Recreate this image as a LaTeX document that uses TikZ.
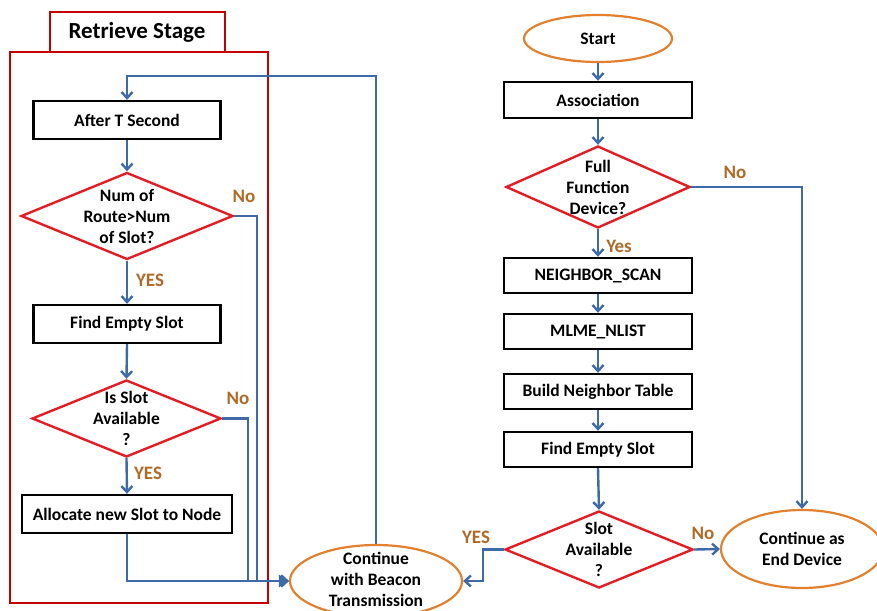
\documentclass[tikz,border=0pt]{standalone}
\usepackage{fontspec}
\setmainfont{Carlito}
\usetikzlibrary{shapes.geometric,arrows.meta,calc}
\definecolor{conn}{RGB}{62,106,168}
\definecolor{dred}{RGB}{228,28,36}
\definecolor{eorange}{RGB}{226,128,46}
\definecolor{lbl}{RGB}{176,106,40}
\definecolor{frame}{RGB}{196,0,0}
\tikzset{
  boxnode/.style={draw=black, line width=2.4pt, rectangle, inner sep=0pt, font=\fontsize{17.5}{20}\selectfont\bfseries},
  decnode/.style={draw=dred, line width=2.4pt, diamond, inner sep=0pt},
  decnode text/.style={align=center, font=\fontsize{17.5}{21}\selectfont\bfseries, inner sep=0pt},
  ellnode/.style={draw=eorange, line width=2.2pt, ellipse, inner sep=0pt},
  arr/.style={draw=conn, line width=2.4pt, -{Straight Barb[length=6pt,width=11pt]}},
  farr/.style={draw=conn, line width=2.4pt, -{Triangle[length=10pt,width=12pt]}},
  lab/.style={text=lbl, font=\fontsize{19}{22}\selectfont\bfseries, inner sep=0pt},
}
\begin{document}
\begin{tikzpicture}[x=1pt,y=-1pt]
\useasboundingbox (0,0) rectangle (877,610);
% frame and tab
\draw[frame, line width=2.8pt] (10,52) rectangle (268,603);
\draw[frame, line width=2.8pt] (50,52) -- (50,12) -- (225,12) -- (225,52);
\node[font=\fontsize{23}{26}\selectfont\bfseries] (title) at (137,32) {Retrieve Stage};

% left column
\node[boxnode, minimum width=187pt, minimum height=38pt] (ts) at (127,120) {After T Second};
\node[decnode, minimum width=212pt, minimum height=87pt,
  label={[decnode text]center:Num of\\Route>Num\\of Slot?}] (d1) at (127,216) {};
\node[boxnode, minimum width=187pt, minimum height=38pt] (fe1) at (127,324) {Find Empty Slot};
\node[decnode, minimum width=189pt, minimum height=77pt,
  label={[decnode text]center:Is Slot\\Available\\?}] (d2) at (126.5,418.5) {};
\node[boxnode, minimum width=210pt, minimum height=38pt] (al) at (127,514) {Allocate new Slot to Node};
\node[ellnode, minimum width=172pt, minimum height=72pt,
  label={[decnode text, yshift=2pt]center:Continue\\with Beacon\\Transmission}] (beacon) at (376,581) {};

% right column
\node[ellnode, minimum width=148pt, minimum height=47pt, font=\fontsize{17.5}{20}\selectfont\bfseries] (start) at (598,38.5) {Start};
\node[boxnode, minimum width=188pt, minimum height=36pt] (assoc) at (598,100) {Association};
\node[decnode, minimum width=184pt, minimum height=82pt,
  label={[decnode text]center:Full\\Function\\Device?}] (d3) at (598,187) {};
\node[boxnode, minimum width=188pt, minimum height=35pt] (ns) at (598,275.5) {NEIGHBOR\_SCAN};
\node[boxnode, minimum width=188pt, minimum height=35pt] (ml) at (598,331.5) {MLME\_NLIST};
\node[boxnode, minimum width=188pt, minimum height=35pt] (bn) at (598,391.5) {Build Neighbor Table};
\node[boxnode, minimum width=188pt, minimum height=35pt] (fe2) at (598,449.5) {Find Empty Slot};
\node[decnode, minimum width=188pt, minimum height=77pt,
  label={[decnode text]center:Slot\\Available\\?}] (d4) at (599,549.5) {};
\node[ellnode, minimum width=162pt, minimum height=78pt,
  label={[decnode text]center:Continue as\\End Device}] (endd) at (802,549) {};

% helper coordinates
\coordinate (looptop) at (376,76);
\coordinate (n1a) at (257,216);
\coordinate (n1b) at (257,581);
\coordinate (n2a) at (248,418.5);
\coordinate (n2b) at (248,581);
\coordinate (alb) at (127,581);
\coordinate (y4a) at (483,549.5);
\coordinate (y4b) at (483,581);

% left connectors
\draw[arr] (beacon.north) -- (looptop) -| (ts.north);
\draw[arr] (ts.south) -- (d1.north);
\draw[arr] (d1.south) -- (fe1.north);
\draw[arr] (fe1.south) -- (d2.north);
\draw[arr] (d2.south) -- (al.north);
\draw[arr] (d1.east) -- (n1a) -- (n1b) -- (beacon.west);
\draw[arr] (d2.east) -- (n2a) -- (n2b) -- (beacon.west);
\draw[farr] (al.south) -- (alb) -- (beacon.west);

% right connectors
\draw[arr] (start.south) -- (assoc.north);
\draw[arr] (assoc.south) -- (d3.north);
\draw[arr] (d3.south) -- (ns.north);
\draw[arr] (ns.south) -- (ml.north);
\draw[arr] (ml.south) -- (bn.north);
\draw[arr] (bn.south) -- (fe2.north);
\draw[arr] (fe2.south) -- (d4.north);
\draw[arr] (d3.east) -| (endd.north);
\draw[arr] (d4.east) -- (endd.west);
\draw[arr] (d4.west) -- (y4a) -- (y4b) -- (beacon.east);

% labels
\node[lab] (l1) at (244,196) {No};
\node[lab] (l2) at (150,280) {YES};
\node[lab] (l3) at (238,398) {No};
\node[lab] (l4) at (148,473) {YES};
\node[lab] (l5) at (735,172) {No};
\node[lab] (l6) at (619,246) {Yes};
\node[lab] (l7) at (476,537) {YES};
\node[lab] (l8) at (703,533) {No};
\end{tikzpicture}
\end{document}
